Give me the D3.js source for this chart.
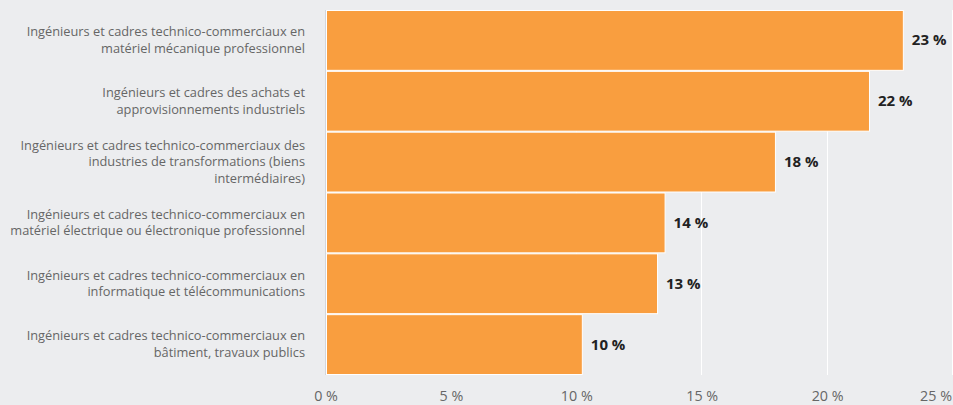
<!DOCTYPE html>
<html>
<head>
<meta charset="utf-8">
<script src="https://cdn.jsdelivr.net/npm/d3@7"></script>
<style>
  body { margin: 0; background: #ecedef; }
  svg { display: block; font-family: "Open Sans", sans-serif; }
</style>
</head>
<body>
<script>
// categories, with the line breaks as shown in the chart
var categories = [
    "Ingénieurs et cadres technico-commerciaux en\nmatériel mécanique professionnel",
    "Ingénieurs et cadres des achats et\napprovisionnements industriels",
    "Ingénieurs et cadres technico-commerciaux des\nindustries de transformations (biens\nintermédiaires)",
    "Ingénieurs et cadres technico-commerciaux en\nmatériel électrique ou électronique professionnel",
    "Ingénieurs et cadres technico-commerciaux en\ninformatique et télécommunications",
    "Ingénieurs et cadres technico-commerciaux en\nbâtiment, travaux publics"
];
var values = [23.0, 21.65, 17.9, 13.5, 13.2, 10.2];
var valueLabels = ["23 %", "22 %", "18 %", "14 %", "13 %", "10 %"];
var ticks = [0, 5, 10, 15, 20, 25];

var width = 953, height = 405;
var margin = {top: 10, right: 0, bottom: 30, left: 326};

var svg = d3.select("body")
    .append("svg")
    .attr("width", width)
    .attr("height", height);

var x = d3.scaleLinear()
    .domain([0, 25])
    .range([margin.left, width - margin.right]);

var y = d3.scaleBand()
    .domain(d3.range(categories.length))
    .range([margin.top, height - margin.bottom])
    .padding(0);

// white grid lines
svg.append("g")
    .selectAll("line")
    .data(ticks.slice(1))
    .enter()
    .append("line")
    .attr("x1", function (d) { return Math.round(x(d)) - 0.5; })
    .attr("x2", function (d) { return Math.round(x(d)) - 0.5; })
    .attr("y1", margin.top)
    .attr("y2", height - margin.bottom)
    .attr("stroke", "#ffffff")
    .attr("stroke-width", 1);

// left axis line
svg.append("line")
    .attr("x1", x(0) - 0.5)
    .attr("x2", x(0) - 0.5)
    .attr("y1", margin.top)
    .attr("y2", height - margin.bottom)
    .attr("stroke", "#d3d6dc");

// bars
svg.append("g")
    .selectAll("rect")
    .data(values)
    .enter()
    .append("rect")
    .attr("x", x(0) + 0.5)
    .attr("y", function (d, i) { return y(i) + 0.5; })
    .attr("width", function (d) { return x(d) - x(0); })
    .attr("height", y.bandwidth() - 1)
    .attr("fill", "#f99e3f")
    .attr("stroke", "#ffffff")
    .attr("stroke-width", 1);

// value labels
svg.append("g")
    .selectAll("text")
    .data(values)
    .enter()
    .append("text")
    .attr("x", function (d) { return x(d) + 9; })
    .attr("y", function (d, i) { return y(i) + y.bandwidth() / 2 + 5; })
    .attr("font-size", "15px")
    .attr("font-weight", "bold")
    .attr("fill", "#222")
    .text(function (d, i) { return valueLabels[i]; });

// category labels (right aligned, multi line)
var lineHeight = 16.5;
svg.append("g")
    .selectAll("text")
    .data(categories)
    .enter()
    .append("text")
    .attr("text-anchor", "end")
    .attr("font-size", "12.8px")
    .attr("fill", "#666")
    .each(function (d, i) {
        var lines = d.split("\n");
        var cy = y(i) + y.bandwidth() / 2;
        var top = cy - (lines.length - 1) * lineHeight / 2 + 4;
        var t = d3.select(this);
        lines.forEach(function (l, k) {
            t.append("tspan")
                .attr("x", 305)
                .attr("y", top + k * lineHeight)
                .text(l);
        });
    });

// x axis tick labels
svg.append("g")
    .selectAll("text")
    .data(ticks)
    .enter()
    .append("text")
    .attr("x", function (d, i) { return i == ticks.length - 1 ? width - 1 : x(d); })
    .attr("y", 401)
    .attr("text-anchor", function (d, i) { return i == ticks.length - 1 ? "end" : "middle"; })
    .attr("font-size", "14.3px")
    .attr("fill", "#666")
    .text(function (d) { return d + " %"; });
</script>
</body>
</html>
